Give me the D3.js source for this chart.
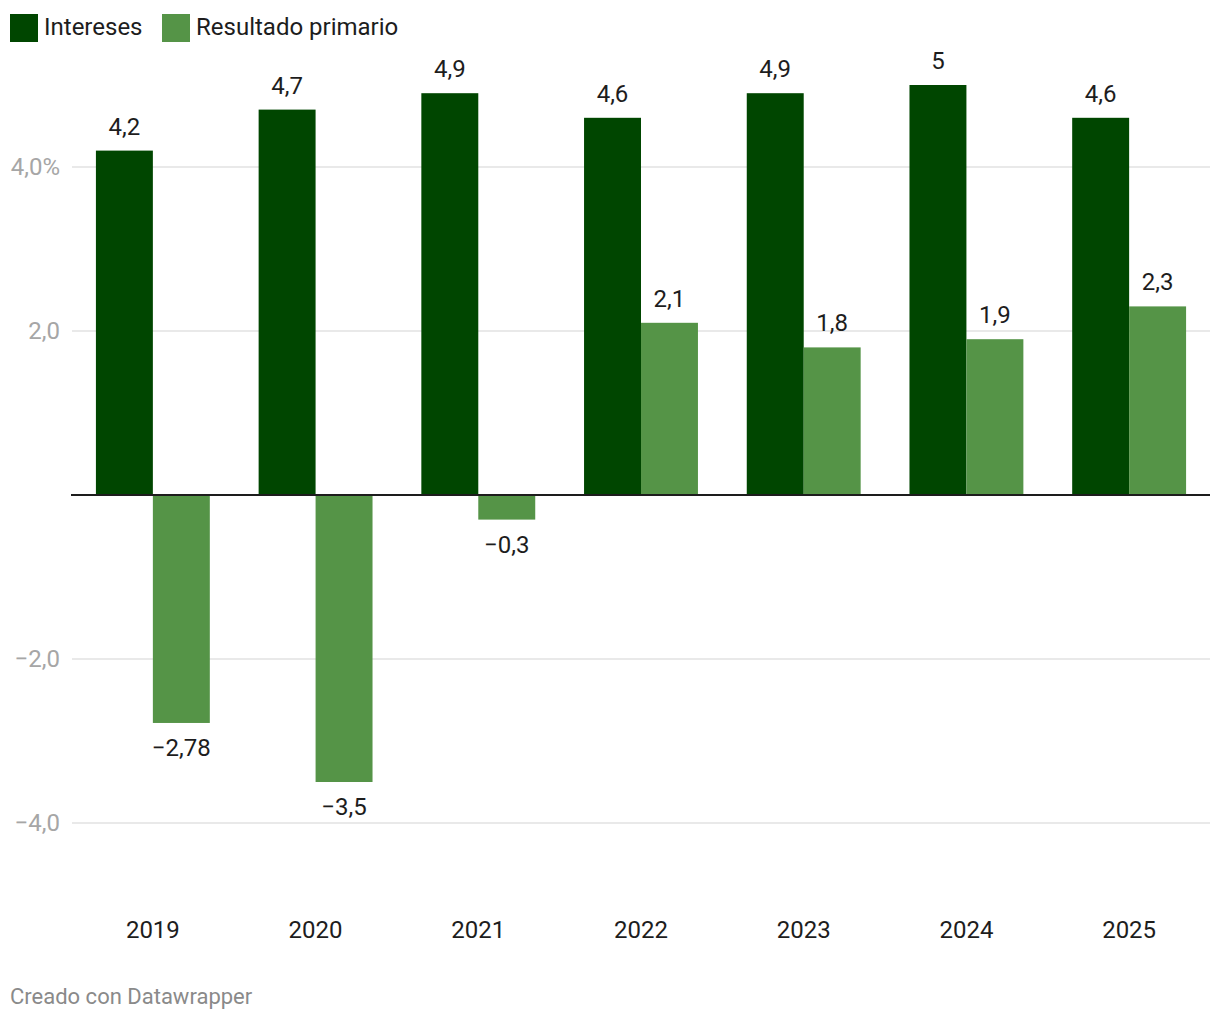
<!DOCTYPE html>
<html><head><meta charset="utf-8">
<script src="https://cdn.jsdelivr.net/npm/d3@7"></script>
<style>
body{margin:0;background:#fff;font-family:Roboto,"Noto Sans",sans-serif;}
</style></head>
<body>
<svg id="c" width="1220" height="1020"></svg>
<script>
const years = ["2019","2020","2021","2022","2023","2024","2025"];
const seriesNames = ["Intereses","Resultado primario"];
const intereses = [4.2,4.7,4.9,4.6,4.9,5,4.6];
const resultado = [-2.78,-3.5,-0.3,2.1,1.8,1.9,2.3];
const valueLabelsI = ["4,2","4,7","4,9","4,6","4,9","5","4,6"];
const valueLabelsR = ["−2,78","−3,5","−0,3","2,1","1,8","1,9","2,3"];
const yTicks = [4,2,-2,-4];
const yTickLabels = ["4,0%","2,0","−2,0","−4,0"];
const colors = ["#004600","#559447"];

const svg = d3.select("#c");
const y = d3.scaleLinear().domain([-4,4]).range([823,167]);
const x0 = d3.scaleBand().domain(years).range([72,1210]).paddingInner(0.3).paddingOuter(0.147);
const x1 = d3.scaleBand().domain(seriesNames).range([0,x0.bandwidth()]);

// grid
svg.append("g").selectAll("line").data(yTicks).join("line")
  .attr("x1",72).attr("x2",1210).attr("y1",d=>y(d)).attr("y2",d=>y(d))
  .attr("stroke","#e2e2e2").attr("stroke-width",1.5);
svg.append("g").selectAll("text").data(yTicks).join("text")
  .attr("x",60).attr("y",d=>y(d)).attr("dy","0.35em").attr("text-anchor","end")
  .attr("font-size",24).attr("fill","#a6a6a6").text((d,i)=>yTickLabels[i]);

const data = years.map((yr,i)=>({yr, vals:[intereses[i],resultado[i]], labs:[valueLabelsI[i],valueLabelsR[i]]}));
const g = svg.append("g").selectAll("g").data(data).join("g")
  .attr("transform",d=>`translate(${x0(d.yr)},0)`);
g.selectAll("rect").data(d=>d.vals.map((v,k)=>({v,k}))).join("rect")
  .attr("x",d=>x1(seriesNames[d.k])).attr("width",x1.bandwidth())
  .attr("y",d=>y(Math.max(0,d.v))).attr("height",d=>Math.abs(y(d.v)-y(0)))
  .attr("fill",d=>colors[d.k]);
g.selectAll("text").data(d=>d.vals.map((v,k)=>({v,k,l:d.labs[k]}))).join("text")
  .attr("x",d=>x1(seriesNames[d.k])+x1.bandwidth()/2)
  .attr("y",d=>d.v>=0 ? y(d.v)-16 : y(d.v)+33)
  .attr("text-anchor","middle").attr("font-size",24).attr("fill","#1d1d1d").text(d=>d.l);

// zero line
svg.append("line").attr("x1",71).attr("x2",1210).attr("y1",y(0)).attr("y2",y(0))
  .attr("stroke","#1d1d1d").attr("stroke-width",2);

// x axis labels
svg.append("g").selectAll("text").data(years).join("text")
  .attr("x",d=>x0(d)+x0.bandwidth()/2).attr("y",938).attr("text-anchor","middle")
  .attr("font-size",24).attr("fill","#1d1d1d").text(d=>d);

// legend
const leg = [{n:seriesNames[0],x:10},{n:seriesNames[1],x:162}];
leg.forEach((l,i)=>{
  svg.append("rect").attr("x",l.x).attr("y",14).attr("width",28).attr("height",28).attr("fill",colors[i]);
  svg.append("text").attr("x",l.x+34).attr("y",35).attr("font-size",24).attr("fill","#1d1d1d").text(l.n);
});

svg.append("text").attr("x",10).attr("y",1004).attr("font-size",22).attr("fill","#8a8a8a").text("Creado con Datawrapper");
</script>
</body></html>
